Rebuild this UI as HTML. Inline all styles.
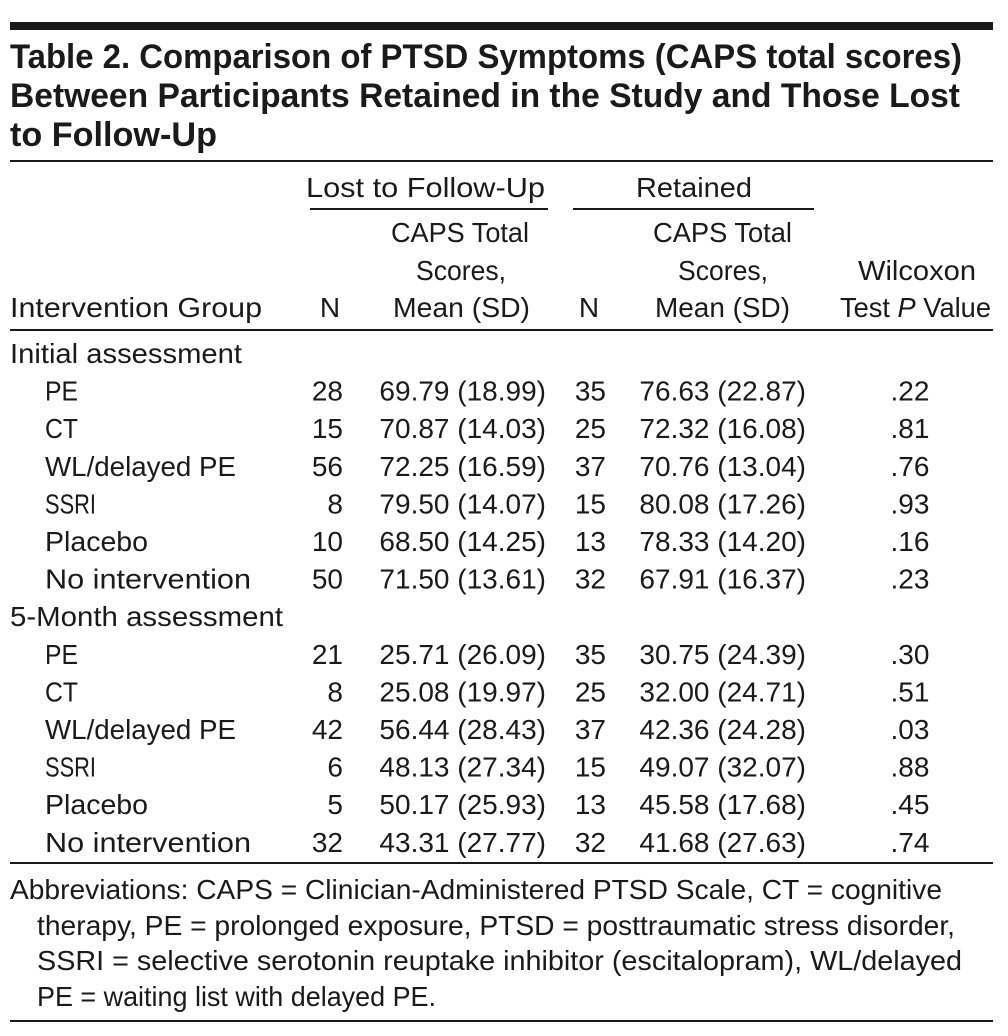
<!DOCTYPE html>
<html><head><meta charset="utf-8">
<style>
html,body{margin:0;padding:0;background:#fff;}
svg{display:block;}
text{font-family:"Liberation Sans",sans-serif;fill:#1a1a1a;}
.t{font-weight:bold;font-size:34px;}
.b{font-size:28px;}
.f{font-size:28px;}
</style></head>
<body>
<svg id="tbl" width="1008" height="1036" viewBox="0 0 1008 1036">
<rect x="10" y="22" width="983" height="8" fill="#1a1a1a"/>
<text class="t" x="10" y="68" textLength="952" lengthAdjust="spacingAndGlyphs">Table 2. Comparison of PTSD Symptoms (CAPS total scores)</text>
<text class="t" x="10" y="107" textLength="950" lengthAdjust="spacingAndGlyphs">Between Participants Retained in the Study and Those Lost</text>
<text class="t" x="10" y="146" textLength="207" lengthAdjust="spacingAndGlyphs">to Follow-Up</text>
<rect x="10" y="160" width="983" height="2" fill="#1a1a1a"/>

<text class="b" x="306" y="197" textLength="239" lengthAdjust="spacingAndGlyphs">Lost to Follow-Up</text>
<rect x="310" y="208" width="238" height="2" fill="#1a1a1a"/>
<text class="b" x="636" y="197" textLength="116" lengthAdjust="spacingAndGlyphs">Retained</text>
<rect x="573" y="208" width="241" height="2" fill="#1a1a1a"/>

<text class="b" x="391" y="242" textLength="138" lengthAdjust="spacingAndGlyphs">CAPS Total</text>
<text class="b" x="416" y="280" textLength="90" lengthAdjust="spacingAndGlyphs">Scores,</text>
<text class="b" x="393" y="317" textLength="137" lengthAdjust="spacingAndGlyphs">Mean (SD)</text>
<text class="b" x="653" y="242" textLength="139" lengthAdjust="spacingAndGlyphs">CAPS Total</text>
<text class="b" x="678" y="280" textLength="90" lengthAdjust="spacingAndGlyphs">Scores,</text>
<text class="b" x="655" y="317" textLength="135" lengthAdjust="spacingAndGlyphs">Mean (SD)</text>
<text class="b" x="10" y="317" textLength="252" lengthAdjust="spacingAndGlyphs">Intervention Group</text>
<text class="b" x="330" y="317" text-anchor="middle">N</text>
<text class="b" x="589" y="317" text-anchor="middle">N</text>
<text class="b" x="858" y="280" textLength="118" lengthAdjust="spacingAndGlyphs">Wilcoxon</text>
<text class="b" x="840" y="317" textLength="151" lengthAdjust="spacingAndGlyphs">Test <tspan font-style="italic">P</tspan> Value</text>
<rect x="10" y="329" width="983" height="2" fill="#1a1a1a"/>
<g id="body"></g>
<rect x="10" y="862" width="983" height="2" fill="#1a1a1a"/>
<text class="f" x="10" y="899" textLength="932" lengthAdjust="spacingAndGlyphs">Abbreviations: CAPS = Clinician-Administered PTSD Scale, CT = cognitive</text>
<text class="f" x="37" y="935" textLength="918" lengthAdjust="spacingAndGlyphs">therapy, PE = prolonged exposure, PTSD = posttraumatic stress disorder,</text>
<text class="f" x="37" y="970" textLength="925" lengthAdjust="spacingAndGlyphs">SSRI = selective serotonin reuptake inhibitor (escitalopram), WL/delayed</text>
<text class="f" x="37" y="1006" textLength="399" lengthAdjust="spacingAndGlyphs">PE = waiting list with delayed PE.</text>
<rect x="10" y="1020" width="983" height="2" fill="#1a1a1a"/>
</svg>
<script>
const labels = ["Initial assessment","PE","CT","WL/delayed PE","SSRI","Placebo","No intervention","5-Month assessment","PE","CT","WL/delayed PE","SSRI","Placebo","No intervention"];
const labelWidths = [232,33,33,191,51,103,206,273,33,33,191,51,103,206];
const lostN = ["","28","15","56","8","10","50","","21","8","42","6","5","32"];
const lostMean = ["","69.79 (18.99)","70.87 (14.03)","72.25 (16.59)","79.50 (14.07)","68.50 (14.25)","71.50 (13.61)","","25.71 (26.09)","25.08 (19.97)","56.44 (28.43)","48.13 (27.34)","50.17 (25.93)","43.31 (27.77)"];
const retN = ["","35","25","37","15","13","32","","35","25","37","15","13","32"];
const retMean = ["","76.63 (22.87)","72.32 (16.08)","70.76 (13.04)","80.08 (17.26)","78.33 (14.20)","67.91 (16.37)","","30.75 (24.39)","32.00 (24.71)","42.36 (24.28)","49.07 (32.07)","45.58 (17.68)","41.68 (27.63)"];
const pVals = ["",".22",".81",".76",".93",".16",".23","",".30",".51",".03",".88",".45",".74"];
const NS="http://www.w3.org/2000/svg";
const g=document.getElementById('body');
function mk(txt,x,y,anchor,w){
  const t=document.createElementNS(NS,'text');
  t.setAttribute('class','b');
  t.setAttribute('x',x);t.setAttribute('y',y);
  if(anchor) t.setAttribute('text-anchor',anchor);
  if(w){t.setAttribute('textLength',w);t.setAttribute('lengthAdjust','spacingAndGlyphs');}
  t.textContent=txt;g.appendChild(t);return t;
}
labels.forEach((lab,i)=>{
  const y=363+i*37.6;
  const sub=lostN[i]!=="";
  const a=mk(lab,sub?45:10,y,null,labelWidths[i]);
  
  
  if(!sub) return;
  const b=mk(lostN[i],343,y,'end');
  
  
  const c=mk(lostMean[i],546,y,'end');
  
  
  const d=mk(retN[i],606,y,'end');
  
  
  const e=mk(retMean[i],806,y,'end');
  
  
  const f=mk(pVals[i],910,y,'middle');
  
  
});
</script>
</body></html>
